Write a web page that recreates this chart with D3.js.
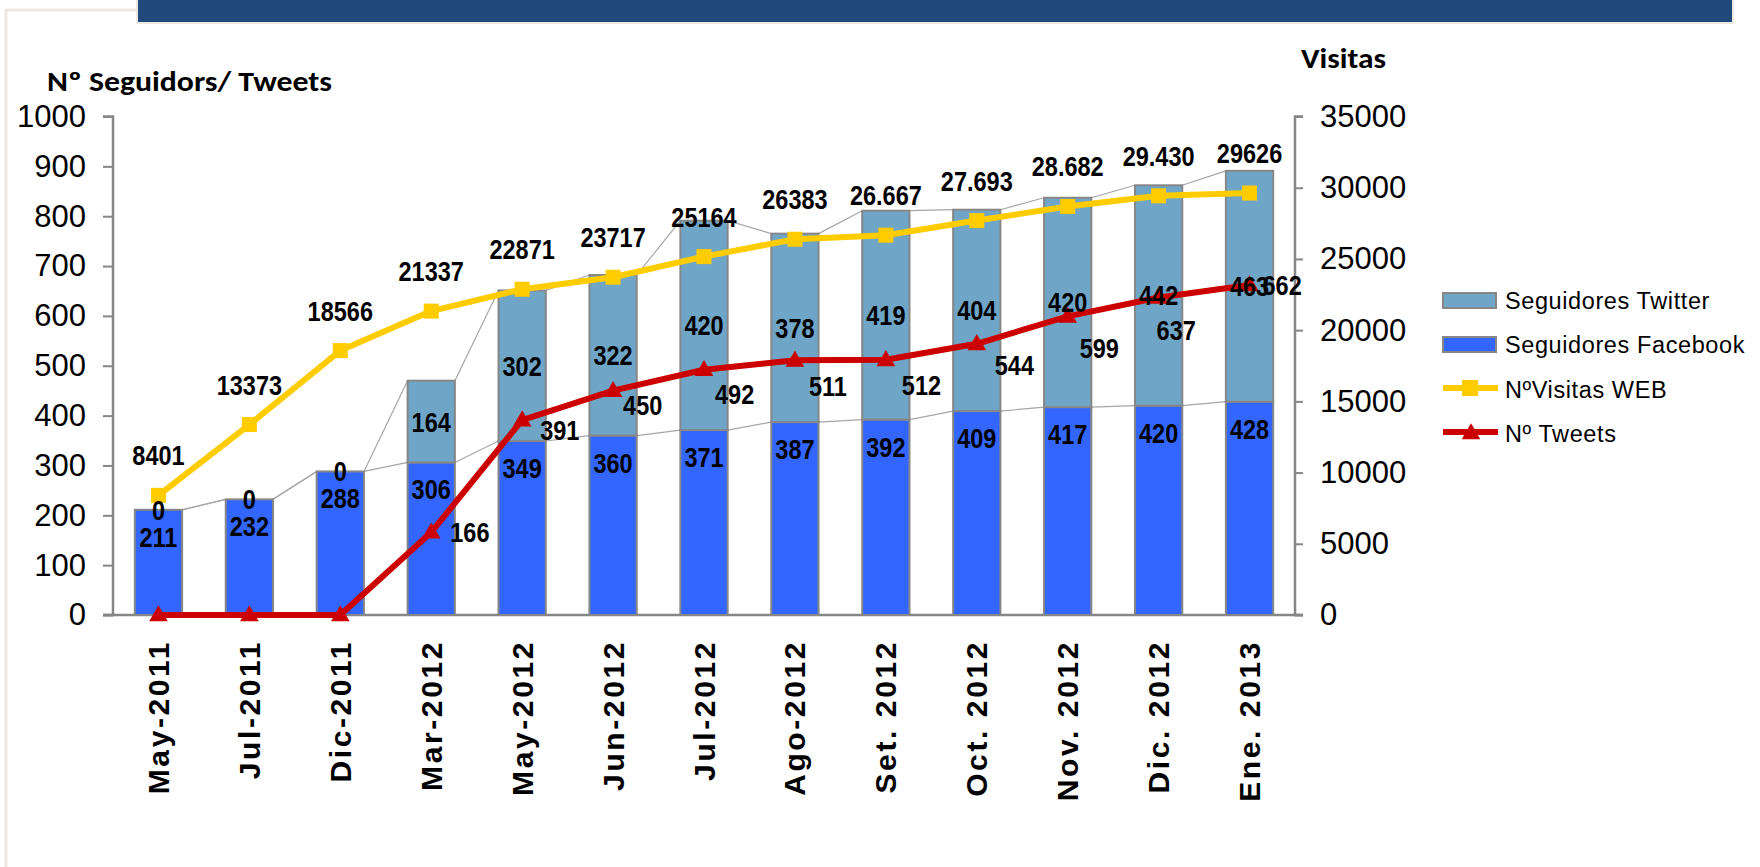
<!DOCTYPE html>
<html>
<head>
<meta charset="utf-8">
<script src="https://cdn.jsdelivr.net/npm/d3@7"></script>
<style>
  html, body { margin: 0; padding: 0; background: #ffffff; }
  svg { display: block; }
</style>
</head>
<body>
<svg id="chart" width="1760" height="867"></svg>
<script>
// ---------------- data ----------------
const categories = ["May-2011", "Jul-2011", "Dic-2011", "Mar-2012", "May-2012", "Jun-2012", "Jul-2012",
                    "Ago-2012", "Set. 2012", "Oct. 2012", "Nov. 2012", "Dic. 2012", "Ene. 2013"];
const facebook = [211, 232, 288, 306, 349, 360, 371, 387, 392, 409, 417, 420, 428];
const twitter  = [0, 0, 0, 164, 302, 322, 420, 378, 419, 404, 420, 442, 463];
const visitas  = [8401, 13373, 18566, 21337, 22871, 23717, 25164, 26383, 26667, 27693, 28682, 29430, 29626];
const visitasLabels = ["8401", "13373", "18566", "21337", "22871", "23717", "25164", "26383",
                       "26.667", "27.693", "28.682", "29.430", "29626"];
const tweets   = [0, 0, 0, 166, 391, 450, 492, 511, 512, 544, 599, 637, 662];
const leftTicks  = [0, 100, 200, 300, 400, 500, 600, 700, 800, 900, 1000];
const rightTicks = [0, 5000, 10000, 15000, 20000, 25000, 30000, 35000];
const seriesNames = ["Seguidores Twitter", "Seguidores Facebook", "NºVisitas WEB", "Nº Tweets"];

// label nudges for the tweet labels (layout only)
const tweetLabelNudge = [null, null, null, [19, 10], [18, 20], [10, 24], [11, 34], [14, 36], [16, 35], [18, 31], [12, 42], [-2, 43], [13, 10]];

// ---------------- styles ----------------
const C = {
  header: "#214A7C", frame: "#ECE9DF", axis: "#868686",
  fb: "#3366FF", tw: "#6FA5C6", barStroke: "#878787",
  yellow: "#FFCC00", red: "#CC0000", serLine: "#A6A6A6"
};
const numFont = "'Liberation Sans', Arial, sans-serif";
const titleFont = "Carlito, Calibri, Lato, 'Open Sans', sans-serif";
const condense = 0.84;

const svg = d3.select("#chart");

// frame and header band
svg.append("path").attr("d", "M6,867 L6,10 L137,10").attr("fill", "none").attr("stroke", C.frame).attr("stroke-width", 3);
svg.append("rect").attr("x", 137).attr("y", -2).attr("width", 1596).attr("height", 25)
   .attr("fill", C.header).attr("stroke", C.frame).attr("stroke-width", 2);

// ---------------- scales ----------------
const x = d3.scaleBand().domain(categories).range([113, 1295]).paddingInner(0.48).paddingOuter(0.24);
const cx = d => x(d) + x.bandwidth() / 2;
const yL = d3.scaleLinear().domain([0, 1000]).range([615, 116.5]);
const yR = d3.scaleLinear().domain([0, 35000]).range([615, 116.5]);

// ---------------- axes ----------------
const axL = svg.append("g").attr("transform", "translate(113,0)")
  .call(d3.axisLeft(yL).tickValues(leftTicks).tickSize(10).tickPadding(17).tickFormat(d3.format("d")));
const axR = svg.append("g").attr("transform", "translate(1295,0)")
  .call(d3.axisRight(yR).tickValues(rightTicks).tickSize(8).tickPadding(17).tickFormat(d3.format("d")));
[axL, axR].forEach(g => {
  g.select(".domain").attr("stroke", C.axis).attr("stroke-width", 2.5);
  g.selectAll(".tick line").attr("stroke", C.axis).attr("stroke-width", 2);
  g.selectAll(".tick text").attr("font-family", numFont).attr("font-size", 31).attr("fill", "#000");
});
axR.select(".domain").attr("d", "M8,116.5H0V615H8");
axL.select(".domain").attr("d", "M-10,116.5H0V615H-10");

// x-axis line
svg.append("line").attr("x1", 103).attr("x2", 1303).attr("y1", 615).attr("y2", 615)
   .attr("stroke", C.axis).attr("stroke-width", 2.5);

// x-axis labels
const xAxis = svg.append("g").attr("transform", "translate(0,640)")
  .call(d3.axisBottom(x).tickSize(0).tickPadding(0));
xAxis.select(".domain").remove();
xAxis.selectAll(".tick text")
  .attr("font-family", numFont).attr("font-weight", "bold").attr("font-size", 30)
  .attr("letter-spacing", "2.6px").attr("fill", "#000")
  .attr("text-anchor", "end").attr("dy", null).attr("y", 0)
  .attr("transform", "translate(10.5,0) rotate(-90)");

// ---------------- bars ----------------
const rows = categories.map((c, i) => ({ c, i, fb: facebook[i], tw: twitter[i], tot: facebook[i] + twitter[i] }));
const bw = x.bandwidth();

// series lines (connectors between bar tops)
const gs = svg.append("g").attr("stroke", C.serLine).attr("stroke-width", 1.2).attr("fill", "none");
for (let i = 0; i < rows.length - 1; i++) {
  const a = rows[i], b = rows[i + 1];
  gs.append("line").attr("x1", x(a.c) + bw).attr("y1", yL(a.fb)).attr("x2", x(b.c)).attr("y2", yL(b.fb));
  gs.append("line").attr("x1", x(a.c) + bw).attr("y1", yL(a.tot)).attr("x2", x(b.c)).attr("y2", yL(b.tot));
}

const gb = svg.append("g");
gb.selectAll("rect.fb").data(rows).join("rect").attr("class", "fb")
  .attr("x", d => x(d.c)).attr("width", bw)
  .attr("y", d => yL(d.fb)).attr("height", d => yL(0) - yL(d.fb))
  .attr("fill", C.fb).attr("stroke", C.barStroke).attr("stroke-width", 2);
gb.selectAll("rect.tw").data(rows.filter(d => d.tw > 0)).join("rect").attr("class", "tw")
  .attr("x", d => x(d.c)).attr("width", bw)
  .attr("y", d => yL(d.tot)).attr("height", d => yL(d.fb) - yL(d.tot))
  .attr("fill", C.tw).attr("stroke", C.barStroke).attr("stroke-width", 2);

// ---------------- lines ----------------
const lineV = d3.line().x((d, i) => cx(categories[i])).y(d => yR(d));
svg.append("path").datum(visitas).attr("d", lineV).attr("fill", "none")
   .attr("stroke", C.yellow).attr("stroke-width", 6).attr("stroke-linejoin", "round");
svg.append("g").selectAll("rect").data(visitas).join("rect")
   .attr("x", (d, i) => cx(categories[i]) - 7.5).attr("y", d => yR(d) - 7.5)
   .attr("width", 15).attr("height", 15).attr("fill", C.yellow);

const lineT = d3.line().x((d, i) => cx(categories[i])).y(d => yL(d));
svg.append("path").datum(tweets).attr("d", lineT).attr("fill", "none")
   .attr("stroke", C.red).attr("stroke-width", 6).attr("stroke-linejoin", "round");
const tri = d3.symbol().type(d3.symbolTriangle).size(150);
svg.append("g").selectAll("path").data(tweets).join("path")
   .attr("d", tri).attr("transform", (d, i) => `translate(${cx(categories[i])},${yL(d) + 1})`)
   .attr("fill", C.red);

// ---------------- data labels ----------------
const gl = svg.append("g").attr("font-family", numFont).attr("font-weight", "bold")
  .attr("font-size", 28).attr("fill", "#000").attr("text-anchor", "middle");
const place = (px, py) => `translate(${px},${py}) scale(${condense},1)`;
// facebook: inside end
gl.selectAll("text.fb").data(rows).join("text").attr("class", "fb")
  .attr("transform", d => place(cx(d.c), yL(d.fb) + 37)).text(d => d.fb);
// twitter: centred in segment
gl.selectAll("text.tw").data(rows).join("text").attr("class", "tw")
  .attr("transform", d => place(cx(d.c), (yL(d.fb) + yL(d.tot)) / 2 + 10)).text(d => d.tw);
// visitas: above
gl.selectAll("text.vi").data(visitas).join("text").attr("class", "vi")
  .attr("transform", (d, i) => place(cx(categories[i]), yR(d) - 30)).text((d, i) => visitasLabels[i]);
// tweets: right of point
gl.selectAll("text.tt").data(tweets.map((v, i) => ({ v, i })).filter(d => d.v > 0)).join("text").attr("class", "tt")
  .attr("text-anchor", "start")
  .attr("transform", d => place(cx(categories[d.i]) + tweetLabelNudge[d.i][0], yL(d.v) + tweetLabelNudge[d.i][1]))
  .text(d => d.v);

// ---------------- axis titles ----------------
svg.append("text").attr("x", 47).attr("y", 91).attr("font-family", titleFont).attr("font-weight", "bold")
   .attr("font-size", 28).attr("textLength", 285).attr("lengthAdjust", "spacingAndGlyphs").text("Nº Seguidors/ Tweets");
svg.append("text").attr("x", 1301).attr("y", 68).attr("font-family", titleFont).attr("font-weight", "bold")
   .attr("font-size", 28).attr("textLength", 85).attr("lengthAdjust", "spacingAndGlyphs").text("Visitas");

// ---------------- legend ----------------
const lg = svg.append("g").attr("font-family", numFont).attr("font-size", 23.5).attr("letter-spacing", "0.6px");
const legY = [309, 353, 398, 442];
lg.append("rect").attr("x", 1443).attr("y", 293).attr("width", 53).attr("height", 15)
  .attr("fill", C.tw).attr("stroke", C.barStroke).attr("stroke-width", 2);
lg.append("rect").attr("x", 1443).attr("y", 337).attr("width", 53).attr("height", 15)
  .attr("fill", C.fb).attr("stroke", C.barStroke).attr("stroke-width", 2);
lg.append("line").attr("x1", 1443).attr("x2", 1498).attr("y1", 388).attr("y2", 388).attr("stroke", C.yellow).attr("stroke-width", 6);
lg.append("rect").attr("x", 1462).attr("y", 380).attr("width", 16).attr("height", 16).attr("fill", C.yellow);
lg.append("line").attr("x1", 1443).attr("x2", 1498).attr("y1", 432).attr("y2", 432).attr("stroke", C.red).attr("stroke-width", 6);
lg.append("path").attr("d", tri).attr("transform", "translate(1471,434)").attr("fill", C.red);
lg.selectAll("text").data(seriesNames).join("text")
  .attr("x", 1505).attr("y", (d, i) => legY[i]).text(d => d);
</script>
</body>
</html>
